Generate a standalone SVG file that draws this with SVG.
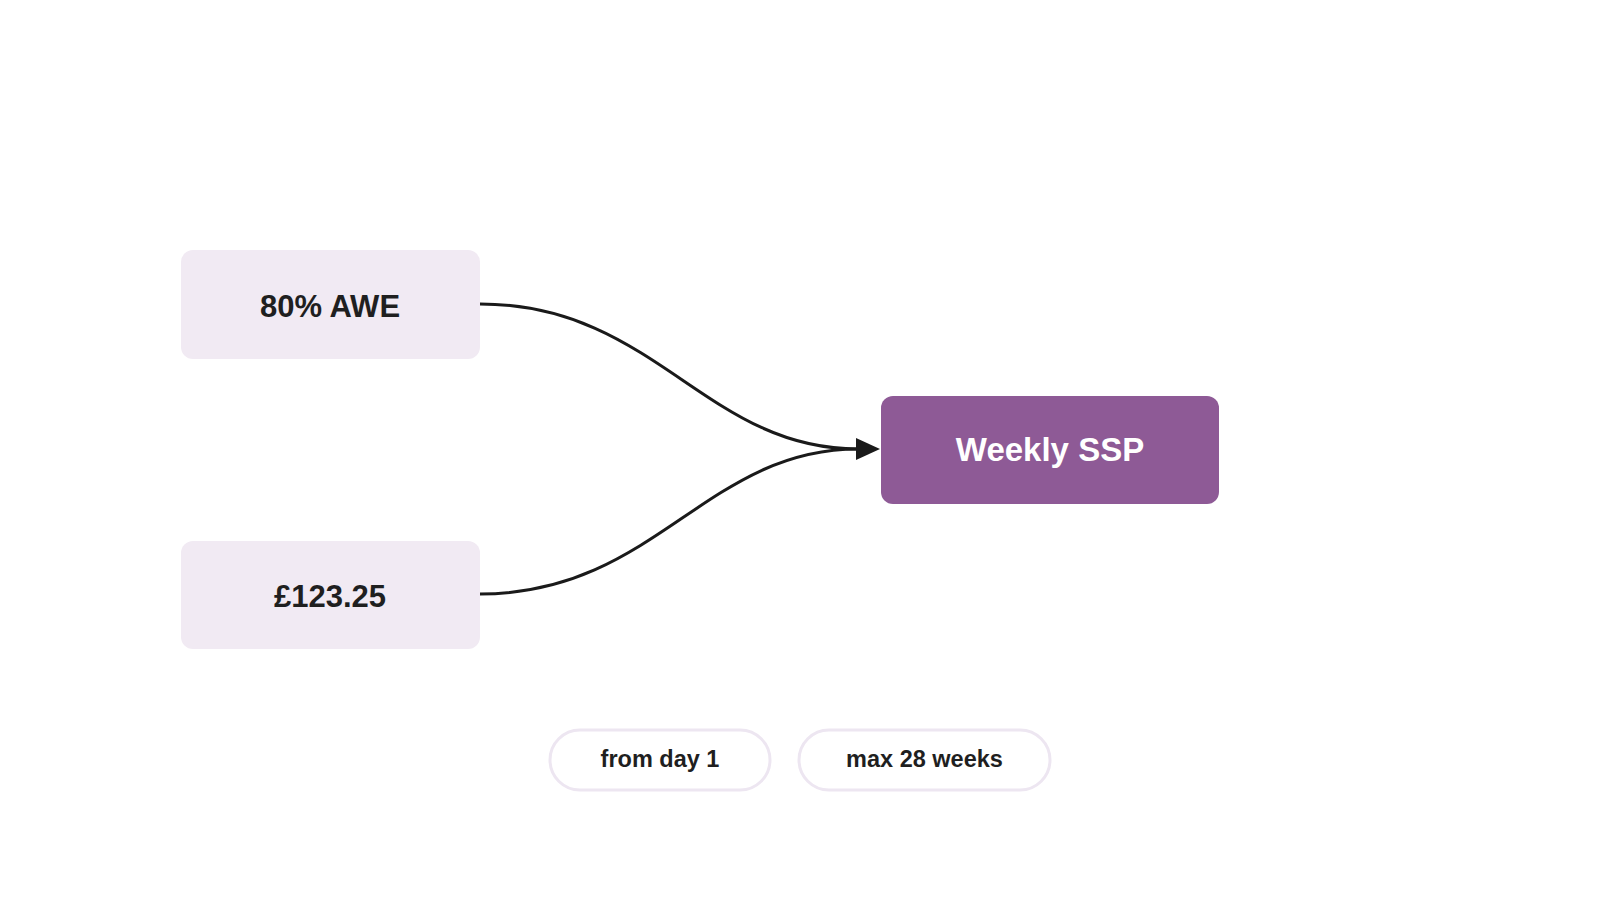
<svg xmlns="http://www.w3.org/2000/svg" width="1600" height="900" viewBox="0 0 1600 900">
<style>
.in{fill:#f1eaf3}
.t{font-family:"Liberation Sans",Arial,sans-serif;font-weight:bold;text-anchor:middle;dominant-baseline:central}
.c{fill:none;stroke:#1a1a1a;stroke-width:3}
.pill{fill:#fff;stroke:#ede6f1;stroke-width:3}
</style>
<rect width="1600" height="900" fill="#fff"/>
<g id="connectors">
<path class="c" d="M480,304 C655,304 705,449 858,449"/>
<path class="c" d="M480,594 C655,594 705,449 858,449"/>
<path d="M856,438 L880,449 L856,460 Z" fill="#1a1a1a"/>
</g>
<g id="n1"><rect class="in" x="181" y="250" width="299" height="109" rx="12"/><text class="t" x="330" y="306" font-size="31" fill="#1f1f1f">80% AWE</text></g>
<g id="n2"><rect class="in" x="181" y="541" width="299" height="108" rx="12"/><text class="t" x="330" y="596" font-size="31" fill="#1f1f1f">£123.25</text></g>
<g id="n3"><rect x="881" y="396" width="338" height="108" rx="12" fill="#8e5a96"/><text class="t" x="1050" y="449" font-size="33" fill="#fff">Weekly SSP</text></g>
<g id="p1"><rect class="pill" x="550" y="730" width="220" height="60" rx="30"/><text class="t" x="660" y="759" font-size="23.5" fill="#1f1f1f">from day 1</text></g>
<g id="p2"><rect class="pill" x="799" y="730" width="251" height="60" rx="30"/><text class="t" x="924.5" y="759" font-size="23.5" fill="#1f1f1f">max 28 weeks</text></g>
</svg>
